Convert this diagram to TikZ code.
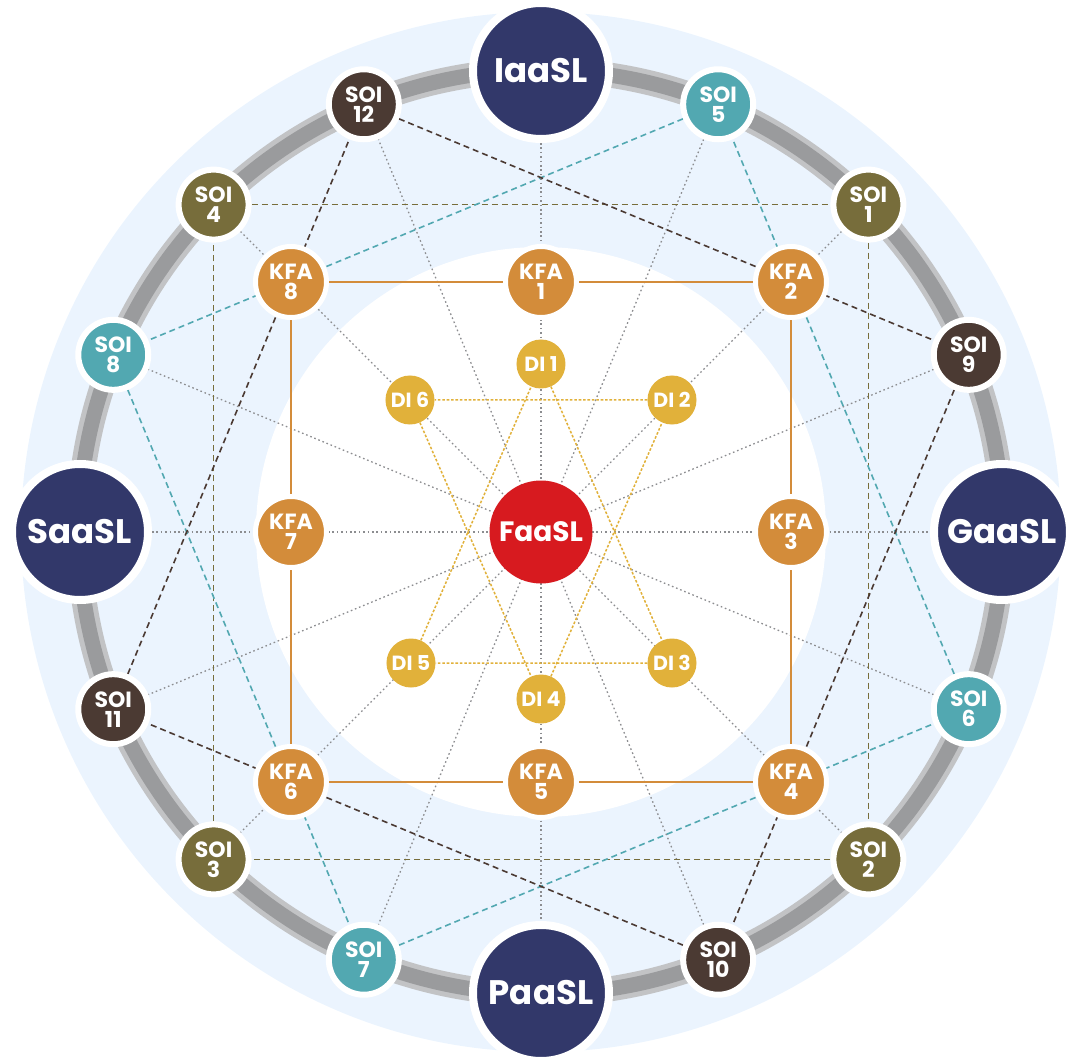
\documentclass[tikz,border=0pt]{standalone}
\usepackage{fontspec}
\setmainfont{Poppins}
\definecolor{navy}{HTML}{32386A}
\definecolor{hubred}{HTML}{D71A1F}
\definecolor{kfaorange}{HTML}{D38C3A}
\definecolor{digold}{HTML}{E1B13A}
\definecolor{olive}{HTML}{776D3B}
\definecolor{teal}{HTML}{52A8B1}
\definecolor{brown}{HTML}{4B3A33}
\definecolor{sky}{HTML}{EBF4FE}
\definecolor{ringdark}{HTML}{9A9B9D}
\definecolor{ringlight}{HTML}{C2C3C5}
\definecolor{spokegray}{HTML}{8C8D90}
\pgfdeclarelayer{back}
\pgfdeclarelayer{wires}
\pgfsetlayers{back,wires,main}

\begin{document}
\begin{tikzpicture}[x=1pt,y=1pt,
    hub/.style={circle,fill=hubred,minimum size=103pt,inner sep=0pt,text=white,
      font=\bfseries\fontsize{28}{28}\selectfont},
    layer/.style={circle,fill=navy,draw=white,line width=8pt,minimum size=136pt,
      inner sep=0pt,text=white,font=\bfseries\fontsize{34}{34}\selectfont},
    soi/.style={circle,draw=white,line width=6pt,minimum size=70pt,inner sep=0pt,
      text=white,align=center,font=\bfseries\fontsize{22}{20}\selectfont},
    kfa/.style={circle,fill=kfaorange,draw=white,line width=5pt,minimum size=71pt,
      inner sep=0pt,text=white,align=center,font=\bfseries\fontsize{22}{20}\selectfont},
    di/.style={circle,fill=digold,minimum size=49pt,inner sep=0pt,text=white,
      font=\bfseries\fontsize{20.5}{20}\selectfont},
    spoke/.style={spokegray,line width=1.3pt,dash pattern=on 1.6pt off 2.8pt},
    chord/.style={line width=1.6pt,dash pattern=on 6pt off 4pt},
    frame/.style={kfaorange,line width=1.5pt},
    star/.style={digold,line width=1.5pt,dash pattern=on 2.6pt off 1.8pt}]
  \useasboundingbox (-541,-526) rectangle (525,532);
  \begin{pgfonlayer}{back}
    \fill[sky] (0,0) circle (520);
    \fill[white] (0,0) circle (285);
    \draw[ringlight,line width=25pt] (0,0) circle (462);
    \draw[ringdark,line width=15pt] (0,0) circle (462);
  \end{pgfonlayer}

  \node[hub] (FaaSL) at (0,0) {FaaSL};
  \node[layer] (IaaSL) at (90:461) {IaaSL};
  \node[layer] (GaaSL) at (0:461) {GaaSL};
  \node[layer] (PaaSL) at (-90:461) {PaaSL};
  \node[layer] (SaaSL) at (180:461) {SaaSL};

  \node[soi,fill=olive] (SOI1) at (45:463) {SOI\\1};
  \node[soi,fill=olive] (SOI2) at (-45:463) {SOI\\2};
  \node[soi,fill=olive] (SOI3) at (225:463) {SOI\\3};
  \node[soi,fill=olive] (SOI4) at (135:463) {SOI\\4};
  \node[soi,fill=teal] (SOI5) at (67.5:463) {SOI\\5};
  \node[soi,fill=teal] (SOI6) at (-22.5:463) {SOI\\6};
  \node[soi,fill=teal] (SOI7) at (247.5:463) {SOI\\7};
  \node[soi,fill=teal] (SOI8) at (157.5:463) {SOI\\8};
  \node[soi,fill=brown] (SOI9) at (22.5:463) {SOI\\9};
  \node[soi,fill=brown] (SOI10) at (-67.5:463) {SOI\\10};
  \node[soi,fill=brown] (SOI11) at (202.5:463) {SOI\\11};
  \node[soi,fill=brown] (SOI12) at (112.5:463) {SOI\\12};

  \node[kfa] (KFA1) at (0,250) {KFA\\1};
  \node[kfa] (KFA2) at (250,250) {KFA\\2};
  \node[kfa] (KFA3) at (250,0) {KFA\\3};
  \node[kfa] (KFA4) at (250,-250) {KFA\\4};
  \node[kfa] (KFA5) at (0,-250) {KFA\\5};
  \node[kfa] (KFA6) at (-250,-250) {KFA\\6};
  \node[kfa] (KFA7) at (-250,0) {KFA\\7};
  \node[kfa] (KFA8) at (-250,250) {KFA\\8};

  \node[di] (DI1) at (0,168) {DI 1};
  \node[di] (DI2) at (131,132) {DI 2};
  \node[di] (DI3) at (131,-131) {DI 3};
  \node[di] (DI4) at (0,-167) {DI 4};
  \node[di] (DI5) at (-130,-131) {DI 5};
  \node[di] (DI6) at (-131,132) {DI 6};

  \begin{pgfonlayer}{wires}
    \draw[spoke] (IaaSL) -- (PaaSL);
    \draw[spoke] (SaaSL) -- (GaaSL);
    \draw[spoke] (SOI1) -- (SOI3);
    \draw[spoke] (SOI4) -- (SOI2);
    \draw[spoke] (SOI5) -- (SOI7);
    \draw[spoke] (SOI6) -- (SOI8);
    \draw[spoke] (SOI9) -- (SOI11);
    \draw[spoke] (SOI10) -- (SOI12);
    \draw[chord,olive] (SOI1) -- (SOI2) -- (SOI3) -- (SOI4) -- (SOI1);
    \draw[chord,teal] (SOI5) -- (SOI8) -- (SOI7) -- (SOI6) -- (SOI5);
    \draw[chord,brown] (SOI12) -- (SOI9) -- (SOI10) -- (SOI11) -- (SOI12);
    \draw[frame] (KFA8) -- (KFA1) -- (KFA2) -- (KFA3) -- (KFA4) -- (KFA5) -- (KFA6) -- (KFA7) -- (KFA8);
    \draw[star] (DI1) -- (DI3) -- (DI5) -- (DI1);
    \draw[star] (DI4) -- (DI2) -- (DI6) -- (DI4);
  \end{pgfonlayer}
\end{tikzpicture}
\end{document}
